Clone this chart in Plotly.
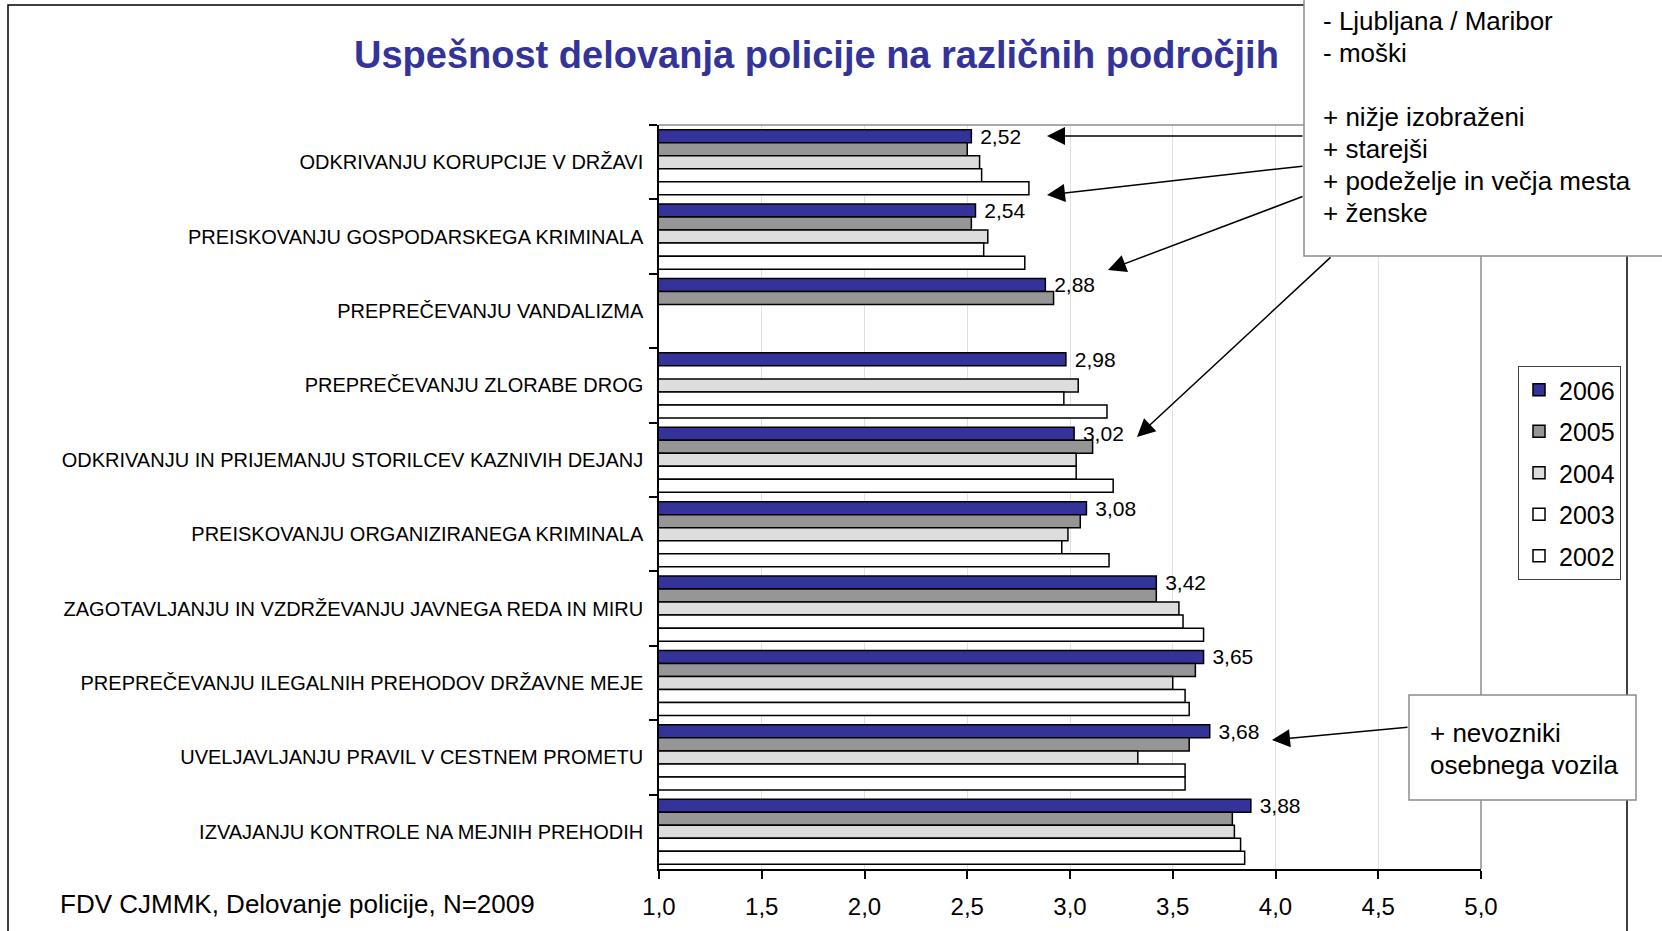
import plotly.graph_objects as go

# ---------------- data ----------------
categories = [
    "ODKRIVANJU KORUPCIJE V DRŽAVI",
    "PREISKOVANJU GOSPODARSKEGA KRIMINALA",
    "PREPREČEVANJU VANDALIZMA",
    "PREPREČEVANJU ZLORABE DROG",
    "ODKRIVANJU IN PRIJEMANJU STORILCEV KAZNIVIH DEJANJ",
    "PREISKOVANJU ORGANIZIRANEGA KRIMINALA",
    "ZAGOTAVLJANJU IN VZDRŽEVANJU JAVNEGA REDA IN MIRU",
    "PREPREČEVANJU ILEGALNIH PREHODOV DRŽAVNE MEJE",
    "UVELJAVLJANJU PRAVIL V CESTNEM PROMETU",
    "IZVAJANJU KONTROLE NA MEJNIH PREHODIH",
]
years = ["2006", "2005", "2004", "2003", "2002"]
v2006 = [2.52, 2.54, 2.88, 2.98, 3.02, 3.08, 3.42, 3.65, 3.68, 3.88]
v2005 = [2.50, 2.52, 2.92, None, 3.11, 3.05, 3.42, 3.61, 3.58, 3.79]
v2004 = [2.56, 2.60, None, 3.04, 3.03, 2.99, 3.53, 3.50, 3.33, 3.80]
v2003 = [2.57, 2.58, None, 2.97, 3.03, 2.96, 3.55, 3.56, 3.56, 3.83]
v2002 = [2.80, 2.78, None, 3.18, 3.21, 3.19, 3.65, 3.58, 3.56, 3.85]
series = [v2006, v2005, v2004, v2003, v2002]
colors = ["#333399", "#969696", "#dddddd", "#ffffff", "#ffffff"]
x_ticks = [1.0, 1.5, 2.0, 2.5, 3.0, 3.5, 4.0, 4.5, 5.0]

title_text = "Uspešnost delovanja policije na različnih področjih"
note_top = ["- Ljubljana / Maribor", "- moški", "", "+ nižje izobraženi",
            "+ starejši", "+ podeželje in večja mesta", "+ ženske"]
note_bottom = ["+ nevozniki", "osebnega vozila"]
footer = "FDV CJMMK, Delovanje policije, N=2009"

# ---------------- layout geometry (pixels) ----------------
W, H = 1662, 931
L, R, T, B = 659, 1481, 125, 869


def px(x):
    return (x - L) / (R - L)


def py(y):
    return 1 - (y - T) / (B - T)


SANS = "Liberation Sans, Arial, sans-serif"

fig = go.Figure()
for i, (yr, vals, col) in enumerate(zip(years, series, colors)):
    fig.add_trace(go.Bar(
        y=categories, x=vals, name=yr, orientation="h",
        marker=dict(color=col, line=dict(color="#000000", width=1.5)),
        legendgroup=yr,
        texttemplate=" %{x:.2f}" if i == 0 else None,
        textposition="outside" if i == 0 else "none",
        textfont=dict(family=SANS, size=21, color="#000000"),
        constraintext="none", cliponaxis=False,
    ))

shapes = [
    # outer frame
    dict(type="rect", xref="paper", yref="paper", x0=px(8), x1=px(1627), y0=py(940), y1=py(5),
         line=dict(color="#000000", width=1.5), fillcolor="rgba(0,0,0,0)", layer="below"),
    # plot area top & right borders
    dict(type="line", xref="paper", yref="paper", x0=0, x1=1, y0=1, y1=1,
         line=dict(color="#8c8c8c", width=1.5), layer="above"),
    dict(type="line", xref="paper", yref="paper", x0=1, x1=1, y0=0, y1=1,
         line=dict(color="#8c8c8c", width=1.5), layer="above"),
    # top-right note box
    dict(type="rect", xref="paper", yref="paper", x0=px(1304), x1=px(1700), y0=py(256), y1=py(-10),
         line=dict(color="#8c8c8c", width=1.5), fillcolor="#ffffff", layer="above"),
    # bottom-right note box
    dict(type="rect", xref="paper", yref="paper", x0=px(1409), x1=px(1636), y0=py(800), y1=py(695),
         line=dict(color="#8c8c8c", width=1.5), fillcolor="#ffffff", layer="above"),
]

annotations = [
    dict(text="<b>" + title_text + "</b>", xref="paper", yref="paper", x=px(816), y=py(55),
         xanchor="center", yanchor="middle", showarrow=False,
         font=dict(family=SANS, size=38, color="#333399")),
    dict(text=footer, xref="paper", yref="paper", x=px(58), y=py(904),
         xanchor="left", yanchor="middle", showarrow=False,
         font=dict(family=SANS, size=26, color="#000000")),
]
# note lines, one annotation per line for exact line spacing
for k, line in enumerate(note_top):
    if line:
        annotations.append(dict(
            text=line, xref="paper", yref="paper", x=px(1321), y=py(21 + 32 * k),
            xanchor="left", yanchor="middle", align="left", showarrow=False,
            font=dict(family=SANS, size=26, color="#000000")))
for k, line in enumerate(note_bottom):
    annotations.append(dict(
        text=line, xref="paper", yref="paper", x=px(1428), y=py(733 + 32 * k),
        xanchor="left", yanchor="middle", align="left", showarrow=False,
        font=dict(family=SANS, size=26, color="#000000")))

arrows = [  # (head_x, head_y, tail_x, tail_y) in pixels
    (1047, 136, 1304, 136),
    (1047, 195, 1304, 166),
    (1108, 270, 1304, 196),
    (1137, 437, 1332, 256),
    (1272, 740, 1409, 727),
]
for hx, hy, tx, ty in arrows:
    annotations.append(dict(
        text="", xref="paper", yref="paper", x=px(hx), y=py(hy),
        ax=tx - hx, ay=ty - hy, showarrow=True, arrowhead=2, arrowsize=2.4,
        arrowwidth=1.5, arrowcolor="#000000", standoff=0, startstandoff=0))

fig.update_layout(
    width=W, height=H,
    margin=dict(l=L, r=W - R, t=T, b=H - B, pad=0, autoexpand=False),
    paper_bgcolor="#ffffff", plot_bgcolor="#ffffff",
    barmode="group", bargap=0.125, bargroupgap=0,
    separators=",.",
    showlegend=True,
    legend=dict(x=px(1518), y=py(366), xanchor="left", yanchor="top",
                bgcolor="#ffffff", bordercolor="#404040", borderwidth=1,
                font=dict(family=SANS, size=25, color="#000000"),
                traceorder="grouped", tracegroupgap=6, itemwidth=30),
    xaxis=dict(range=[1, 5], tickvals=x_ticks, tickformat=".1f",
               showgrid=True, gridcolor="#e0e0e0", gridwidth=1,
               showline=True, linecolor="#000000", linewidth=1.5,
               ticks="outside", ticklen=8, tickcolor="#000000", tickwidth=1.5,
               ticklabelstandoff=7, automargin=False,
               tickfont=dict(family=SANS, size=24, color="#000000"),
               zeroline=False, fixedrange=True),
    yaxis=dict(type="category", categoryorder="array", categoryarray=categories,
               autorange="reversed", showgrid=False,
               showline=True, linecolor="#000000", linewidth=1.5,
               ticks="outside", ticklen=8, tickcolor="#000000", tickwidth=1.5,
               tickson="boundaries", ticklabelstandoff=10, automargin=False,
               tickfont=dict(family=SANS, size=20, color="#000000"),
               fixedrange=True),
    shapes=shapes,
    annotations=annotations,
)

fig.write_html("out.html", config={"displayModeBar": False},
               post_script="document.body.style.margin='0';document.body.style.overflow='hidden';")
